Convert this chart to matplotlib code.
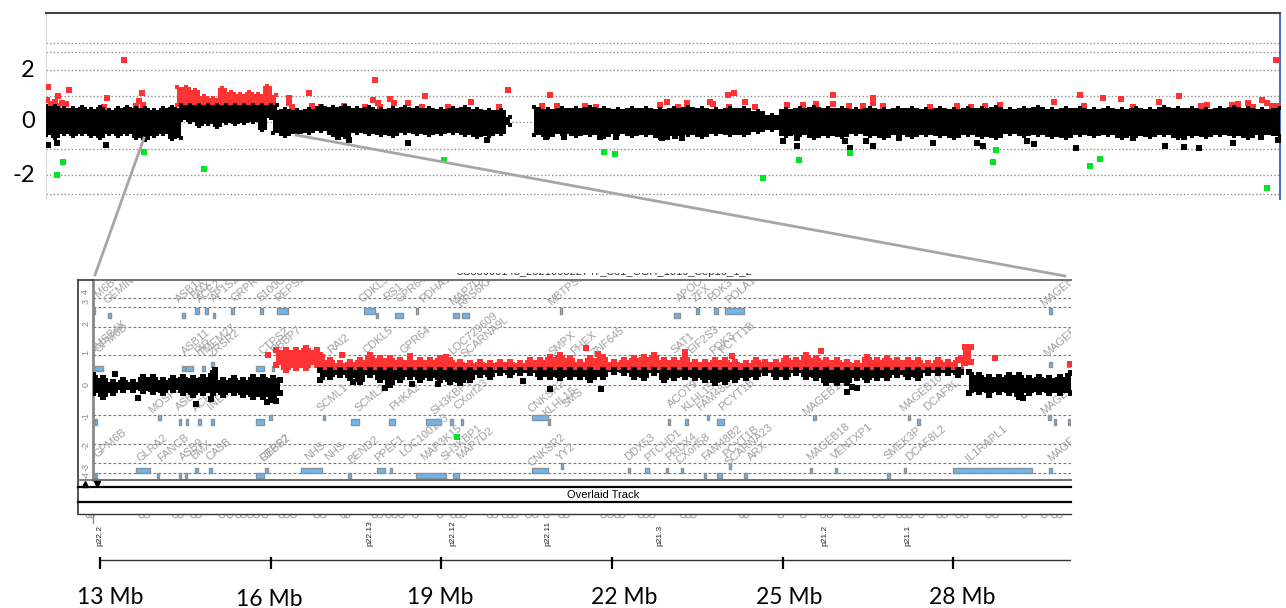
"""Array CGH view: whole chromosome X trace on top, 13-30 Mb zoom with gene track below."""
import matplotlib
matplotlib.use("Agg")
import matplotlib.pyplot as plt
from matplotlib.lines import Line2D
from matplotlib.patches import Rectangle

W, H = 1286, 608
RED, GREEN, BLUE = "#ff3333", "#00e626", "#6db6ee"

# ---- top panel: log ratio against probe position along the chromosome
top_grid = [2.98, 2.64, 1.98, 0.98, 0.0, -1.02, -2.0, -2.72]
top_tick_vals = [2.02, 0.08, -1.95]
top_tick_labels = ["2", "0", "-2"]

top_a_x = [46, 55, 64, 73, 82, 91, 100, 109, 118, 127, 136, 145, 154, 163, 172, 181]
top_a_hi = [.60, .60, .53, .53, .57, .49, .57, .45, .53, .57, .53, .53, .45, .53, .57, .53]
top_a_lo = [-.49, -.60, -.45, -.53, -.45, -.53, -.60, -.45, -.53, -.45, -.60, -.68, -.53, -.45, -.64, -.60]

top_b_x = [181, 190, 199, 208, 217, 226, 235, 244, 253, 262, 271, 277]
top_b_lo = [.08, 0, -.15, -.08, -.19, -.04, -.08, -.04, 0, -.30, .15, .10]

top_gain_x = [177, 186, 195, 204, 213, 222, 231, 240, 249, 258, 267, 276]
top_gain_hi = [1.32, 1.32, 1.21, .98, .91, 1.28, 1.13, 1.06, 1.13, 1.06, 1.36, 1.02]

top_c_x = [273, 285, 297, 309, 321, 333, 345, 357, 369, 381, 393, 405, 417, 429, 441, 453, 465, 477, 489, 501, 510]
top_c_hi = [.45, .49, .45, .49, .60, .57, .60, .53, .57, .49, .53, .57, .53, .53, .49, .53, .57, .49, .45, .45, .19]
top_c_lo = [-.42, -.53, -.45, -.42, -.34, -.49, -.57, -.42, -.45, -.49, -.53, -.42, -.45, -.49, -.45, -.42, -.49, -.57, -.53, -.45, -.11]

top_d_x = [534, 548, 562, 576, 590, 604, 618, 632, 646, 660, 674, 688, 702, 716, 730, 744, 758, 772,
           786, 800, 814, 828, 842, 856, 870, 884, 898, 912, 926, 940, 954, 968, 982, 996, 1010, 1024,
           1038, 1052, 1066, 1080, 1094, 1108, 1122, 1136, 1150, 1164, 1178, 1192, 1206, 1220, 1234, 1248, 1262, 1280]
top_d_hi = [.57, .49, .53, .53, .57, .53, .49, .53, .53, .50, .53, .57, .53, .49, .53, .53, .41, .26,
            .49, .53, .57, .53, .53, .49, .53, .49, .53, .53, .50, .53, .49, .53, .53, .57, .49, .53,
            .57, .49, .53, .53, .49, .53, .49, .53, .49, .57, .53, .53, .49, .53, .57, .53, .49, .53]
top_d_lo = [-.49, -.57, -.45, -.53, -.49, -.57, -.45, -.53, -.49, -.60, -.53, -.49, -.57, -.45, -.50, -.49, -.38, -.30,
            -.53, -.49, -.60, -.53, -.57, -.45, -.53, -.60, -.49, -.57, -.49, -.53, -.60, -.49, -.57, -.60, -.45, -.53,
            -.49, -.57, -.60, -.49, -.53, -.49, -.60, -.53, -.57, -.49, -.60, -.53, -.57, -.49, -.53, -.60, -.49, -.53]

top_red_x = [48, 107, 69, 124, 142, 139, 143, 136, 104, 375, 309, 289, 289, 292, 312, 321, 344, 365, 373, 378, 380,
             390, 394, 408, 425, 422, 448, 471, 508, 499, 550, 542, 557, 585, 596, 47, 51, 55, 58, 62, 66, 58,
             660, 667, 678, 687, 687, 710, 713, 728, 734, 729, 745, 755, 787, 803, 816, 833, 833, 849, 863, 873,
             873, 883, 930, 957, 971, 985, 1000, 1054, 1080, 1084, 1103, 1121, 1133, 1159, 1179, 1201, 1207,
             1232, 1238, 1248, 1253, 1262, 1267, 1272, 1278, 1276]
top_red_y = [1.32, .91, 1.21, 2.34, 1.09, .79, .64, .60, .57, 1.58, 1.09, .91, .72, .57, .60, .57, .60, .57, .83, .72, .57,
             .87, .72, .72, .98, .57, .57, .75, 1.21, .57, 1.02, .60, .60, .60, .57, .83, .68, .75, .98, .72, .68, .62,
             .64, .75, .57, .72, .57, .75, .68, 1.02, 1.09, .57, .75, .57, .64, .64, .68, 1.02, .68, .60, .60, .91,
             .72, .60, .57, .60, .57, .60, .64, .75, 1.02, .60, .91, .87, .57, .75, .98, .60, .64,
             .64, .68, .72, .57, .83, .72, .60, .60, 2.34]
top_blk_x = [48, 57, 106, 338, 349, 408, 487, 546, 564, 600, 616, 662, 667, 675, 682, 783, 797, 797, 845, 850, 866, 873,
             899, 933, 977, 983, 1027, 1034, 1076, 1133, 1165, 1184, 1184, 1199, 1233, 1261, 1278]
top_blk_y = [-.87, -.79, -.87, -.57, -.68, -.79, -.68, -.57, -.57, -.57, -.57, -.60, -.57, -.53, -.60, -.72, -.60, -.91,
             -.72, -.98, -.72, -.91, -.60, -.79, -.79, -.91, -.72, -.83, -.98, -.60, -.91, -.57, -.94, -.98, -.79, -.57, -.68]
top_grn_x = [63, 57, 144, 204, 444, 604, 615, 763, 799, 850, 993, 996, 1090, 1100, 1267]
top_grn_y = [-1.51, -2.0, -1.13, -1.77, -1.43, -1.13, -1.21, -2.11, -1.43, -1.17, -1.51, -1.06, -1.66, -1.40, -2.49]

# ---- zoom panel: log ratio against position in Mb
ins_grid = [2.89, 2.59, 1.92, 1.0, -0.01, -1.01, -1.96, -2.61, -2.93]
ins_tick_vals = [3.11, 2.78, 2.06, 1.09, .03, -1.02, -2.0, -2.72, -3.0]
ins_tick_labels = ["4", "3", "2", "1", "0", "-1", "-2", "-3", "-4"]

blk_l_x = [12.88, 13.06, 13.23, 13.41, 13.58, 13.76, 13.94, 14.11, 14.29, 14.47, 14.64, 14.82, 14.99, 15.17, 15.35, 15.52, 15.70, 15.87, 16.05, 16.17]
blk_l_hi = [.33, .22, .11, .17, .11, .28, .28, .17, .22, .28, .22, .28, .39, .17, .22, .17, .28, .28, .22, .17]
blk_l_lo = [-.28, -.39, -.28, -.17, -.17, -.20, -.22, -.28, -.17, -.28, -.33, -.28, -.28, -.33, -.28, -.33, -.39, -.39, -.50, -.28]

mid_x = [16.87, 17.04, 17.22, 17.39, 17.57, 17.75, 17.92, 18.10, 18.27, 18.45, 18.63, 18.80, 18.98, 19.15, 19.33, 19.51, 19.68, 19.86,
         20.03, 20.21, 20.39, 20.56, 20.74, 20.91, 21.09, 21.26, 21.44, 21.62, 21.85, 22.03, 22.21, 22.39, 22.57, 22.74, 22.92, 23.10,
         23.28, 23.46, 23.64, 23.81, 23.99, 24.17, 24.35, 24.53, 24.70, 24.88, 25.06, 25.24, 25.42, 25.59, 25.77, 25.95, 26.13, 26.31,
         26.49, 26.66, 26.84, 27.02, 27.20, 27.38, 27.55, 27.73, 27.91, 28.09]
blk_m_lo = [.17, .28, .33, .22, .11, .33, .17, 0, .17, .28, .17, .22, .17, .11, .06, .17, .33, .28,
            .39, .33, .39, .39, .28, .28, .22, .28, .28, .17, .28, .44, .39, .28, .22, .39, .17, .22,
            .28, .22, .17, .06, .11, .17, .22, .28, .39, .28, .28, .39, .28, .22, .06, .06, .06, .22,
            .17, .22, .22, .33, .28, .22, .39, .39, .39, .33]
red_m_hi = [1.0, .83, .72, .78, .83, 1.0, .89, .89, .83, .83, .83, .83, .89, .83, .78, .72, .78, .72,
            .78, .78, .72, .83, .83, .94, 1.0, .89, .78, .89, .94, .78, .83, .89, .94, 1.0, .83, .83,
            .94, .78, .78, .83, .83, .78, .72, .83, .78, .78, .89, .83, 1.0, .89, .83, .83, .78, .72,
            .94, .83, .89, .83, .83, .83, .72, .83, .78, .83]

red_l_x = [16.10, 16.28, 16.45, 16.63, 16.81, 16.90]
red_l_hi = [1.17, 1.17, 1.17, 1.22, 1.17, .94]
red_l_lo = [.67, .50, .56, .56, .67, .50]
red_r_x = [28.14, 28.21, 28.32]
red_r_hi = [.89, 1.28, 1.28]
red_r_lo = [.50, .72, .78]

blk_r_x = [28.27, 28.45, 28.62, 28.80, 28.98, 29.16, 29.34, 29.51, 29.69, 29.87, 30.07]
blk_r_hi = [.44, .33, .28, .28, .33, .33, .22, .28, .22, .28, .39]
blk_r_lo = [-.28, -.22, -.28, -.22, -.28, -.39, -.28, -.22, -.28, -.28, -.28]

ins_blk_x = [13.27, 13.67, 14.69, 14.96, 15.03, 15.93, 16.10, 17.45, 18.02, 18.48, 18.94, 19.38, 20.44, 20.92, 21.81, 26.14, 26.30, 26.22, 28.14, 28.63, 29.22]
ins_blk_y = [.36, -.44, -.64, -.48, .50, -.56, -.52, .11, -.09, .02, .02, .17, .13, -.13, -.13, -.22, -.09, -.06, .42, -.33, -.44]
ins_red_x = [15.95, 17.26, 18.46, 19.09, 21.54, 21.75, 23.28, 24.11, 25.68, 28.74, 30.05]
ins_red_y = [1.0, 1.0, .98, .94, 1.24, 1.02, 1.11, .98, 1.14, .91, .69]
ins_grn_x = [19.27]
ins_grn_y = [-1.72]

# gene boxes per track row: (start Mb, width Mb)
row_y = [2.47, 2.31, .69, .54, -1.09, -1.23, -2.70, -2.86, -3.01]
row_genes = [
    [(12.89, .03), (14.68, .06), (14.85, .05), (15.30, .05), (15.82, .05), (16.12, .19), (17.64, .19), (18.55, .04), (21.08, .04),
     (23.47, .06), (23.80, .06), (23.99, .33), (29.69, .04)],
    [(13.15, .04), (14.45, .04), (14.99, .04), (17.85, .04), (18.18, .14), (19.21, .11), (19.36, .13), (23.10, .10)],
    [(14.96, .04), (29.69, .04), (30.00, .07)],
    [(12.91, .15), (14.45, .04), (14.52, .11), (14.80, .04), (15.75, .13), (16.02, .04)],
    [(14.03, .04), (15.98, .05), (16.92, .04), (20.60, .27), (23.67, .04), (25.54, .04), (27.20, .04), (29.67, .04)],
    [(12.92, .03), (14.39, .04), (14.51, .04), (14.73, .05), (14.96, .04), (15.75, .13), (17.42, .13), (18.08, .10), (18.74, .26),
     (19.15, .05), (19.35, .04), (20.87, .04), (22.99, .04), (23.29, .04), (23.85, .12), (27.37, .04), (29.77, .04), (30.02, .04)],
    [(21.10, .04), (24.05, .04)],
    [(13.64, .24), (14.68, .05), (14.92, .05), (15.90, .05), (16.54, .37), (17.87, .15), (18.10, .04), (20.60, .27), (22.28, .04),
     (22.58, .08), (22.95, .04), (23.21, .04), (25.48, .04), (25.92, .04), (27.13, .04), (27.99, 1.39), (29.69, .05)],
    [(12.91, .04), (14.0, .04), (14.39, .04), (14.49, .04), (15.75, .13), (17.37, .04), (18.55, .53), (19.21, .11), (23.62, .04),
     (23.85, .09), (24.33, .04), (26.84, .04)],
]

gene_names = ["GEMIN8", "GPM6B", "ASB11", "BMX", "ACE2", "AP1S2", "GRPR", "S100G", "REPS2", "CDKL5", "RS1", "GPR64", "PDHA1",
              "MAP7D2", "RPS6KA3", "MBTPS2", "APOO", "ZFX", "PDK3", "POLA1", "MAGEB1",
              "GPM6B", "TMSB4X", "ASB11", "PIR", "TMEM27", "ZRSR2", "CTPS2", "RBBP7", "RAI2", "CDKL5", "GPR64", "LOC729609",
              "SCARNA9L", "SMPX", "PHEX", "ZNF645", "SAT1", "EIF2S3", "PDK3", "PCYT1B", "MAGEB1",
              "MOSPD2", "ASB9", "ACE2", "INE2", "SCML1", "SCML2", "PHKA2", "SH3KBP1", "CXorf23", "CNKSR2", "KLHL15", "SMS",
              "ACOT9", "KLHL15", "FAM48B1", "PCYT1B", "MAGEB18", "MAGEB10", "DCAF8L", "MAGEB1",
              "GPM6B", "GLRA2", "FANCB", "ASB9", "BMX", "CA5B", "CTPS2", "RBBP7", "NHS", "NHS", "BEND2", "PPEF1", "LOC100133",
              "MAP3K15", "SH3KBP1", "MAP7D2", "CNKSR2", "YY2", "DDX53", "PTCHD1", "PRDX4", "CXorf58", "FAM48B2", "PCYT1B",
              "SCARNA23", "ARX", "MAGEB18", "VENTXP1", "SMEK3P", "DCAF8L2", "IL1RAPL1", "MAGEB1"]
gene_x = [13.38, 13.0, 14.59, 14.79, 14.93, 15.2, 15.55, 16.02, 16.34, 17.83, 18.17, 18.48, 18.89,
          19.47, 19.65, 21.2, 23.38, 23.58, 23.91, 24.26, 29.87,
          13.2, 13.15, 14.69, 14.82, 15.08, 15.2, 16.06, 16.28, 17.2, 17.89, 18.54, 19.56,
          19.77, 21.14, 21.51, 21.93, 23.25, 23.61, 23.94, 24.2, 29.93,
          14.2, 14.55, 14.85, 15.08, 17.1, 17.77, 18.36, 19.18, 19.53, 20.85, 21.08, 21.32,
          23.25, 23.52, 23.84, 24.2, 25.74, 27.44, 27.79, 29.87,
          13.18, 13.93, 14.29, 14.61, 14.79, 15.08, 16.08, 16.08, 16.78, 17.13, 17.63, 18.1, 18.71,
          19.0, 19.36, 19.59, 20.85, 21.2, 22.49, 22.9, 23.22, 23.43, 23.93, 24.26,
          24.41, 24.56, 25.8, 26.22, 27.11, 27.52, 28.59, 29.99]
gene_y = [3.22, 3.06, 3.17, 3.17, 3.13, 3.2, 3.2, 3.2, 3.22, 3.2, 3.11, 3.2, 3.2,
          3.17, 3.17, 3.17, 3.17, 3.06, 3.17, 3.17, 3.17,
          1.56, 1.61, 1.44, 1.28, 1.5, 1.39, 1.47, 1.5, 1.36, 1.5, 1.5, 1.72,
          1.61, 1.39, 1.39, 1.44, 1.39, 1.5, 1.39, 1.56, 1.5,
          -.39, -.5, -.5, -.5, -.44, -.44, -.39, -.39, -.33, -.39, -.56, -.44,
          -.28, -.39, -.28, -.33, -.39, -.28, -.33, -.44,
          -1.94, -2.11, -2.09, -2.17, -2.17, -2.14, -2.11, -2.11, -2.22, -2.22, -2.17, -2.11, -1.67,
          -1.94, -1.94, -1.94, -2.17, -2.22, -2.06, -2.0, -2.06, -2.11, -1.94, -1.89,
          -2.0, -2.22, -1.89, -1.89, -1.94, -1.94, -1.94, -2.0]

ring_x = [12.8, 12.85, 13.73, 13.82, 14.32, 14.41, 14.64, 14.73, 15.14, 15.28, 15.43, 15.52, 15.64, 15.75, 15.90, 16.19, 16.28, 16.40,
          16.81, 16.92, 17.28, 17.34, 17.83, 17.92, 18.07, 18.18, 18.30, 18.54, 18.98, 19.21, 19.30, 19.39, 19.85, 19.94, 20.12, 20.21,
          20.29, 20.53, 20.65, 20.85, 21.11, 21.20, 21.85, 21.97, 22.09, 22.18, 22.51, 22.60, 22.71, 23.25, 23.34, 23.43, 24.29, 24.35,
          24.97, 25.36, 25.71, 25.83, 26.13, 26.22, 26.31, 26.63, 26.75, 27.05, 27.14, 27.23, 27.44, 27.76, 27.85, 28.09, 28.21, 28.62,
          28.74, 29.25, 29.60, 29.78, 29.87]
band_names = ["p22.2", "p22.13", "p22.12", "p22.11", "p21.3", "p21.2", "p21.1"]
band_x = [13.0, 17.75, 19.2, 20.87, 22.84, 25.74, 27.2]

scale_mb = [13, 16, 19, 22, 25, 28]
scale_labels = ["13 Mb", "16 Mb", "19 Mb", "22 Mb", "25 Mb", "28 Mb"]
scale_label_x = [13.18, 15.97, 18.98, 22.21, 25.11, 28.15]
scale_label_y = [598, 599, 598, 598, 598, 598]


def axes_px(left, top, right, bottom):
    # axes rectangle given in picture pixels
    return fig.add_axes([left / W, 1 - bottom / H, (right - left) / W, (bottom - top) / H])


def fig_line(xs, ys, **kw):
    fig.add_artist(Line2D([x / W for x in xs], [1 - y / H for y in ys], **kw))


def band(ax, x, lo, hi, color, z=3, size=12):
    ax.fill_between(x, lo, hi, step="mid", color=color, lw=0, zorder=z)
    ax.scatter(x, hi, marker="s", s=size, color=color, lw=0, zorder=z)
    ax.scatter(x, lo, marker="s", s=size, color=color, lw=0, zorder=z)


fig = plt.figure(figsize=(W / 100, H / 100), dpi=100)

# ---- top panel
ax = axes_px(46, 13, 1280, 199)
ax.set_xlim(46, 1280)
ax.set_ylim(-2.9, 4.11)
for v in top_grid:
    ax.axhline(v, color="#8c8c8c", lw=1, ls=(0, (1, 1.6)), zorder=1)
band(ax, top_gain_x, [.64] * len(top_gain_x), top_gain_hi, RED)
band(ax, top_a_x, top_a_lo, top_a_hi, "black", 4)
band(ax, top_b_x, top_b_lo, [.64] * len(top_b_x), "black", 4)
band(ax, top_c_x, top_c_lo, top_c_hi, "black", 4)
band(ax, top_d_x, top_d_lo, top_d_hi, "black", 4)
ax.scatter(top_red_x, top_red_y, marker="s", s=15, color=RED, lw=0, zorder=3)
ax.scatter(top_blk_x, top_blk_y, marker="s", s=15, color="black", lw=0, zorder=3)
ax.scatter(top_grn_x, top_grn_y, marker="s", s=15, color=GREEN, lw=0, zorder=3)
ax.set_xticks([])
ax.set_yticks(top_tick_vals, top_tick_labels, fontfamily="Lato", fontsize=17)
ax.tick_params(axis="y", length=0, pad=8)
ax.spines["bottom"].set_visible(False)
ax.spines["top"].set_color("#444444")
ax.spines["top"].set_linewidth(1.5)
ax.spines["left"].set_color("#dddddd")
ax.spines["right"].set_color("#4472c4")
ax.spines["right"].set_linewidth(1.5)

# ---- zoom panel
ins = axes_px(93, 280, 1071, 480)
ins.set_xlim(12.88, 30.07)
ins.set_ylim(-3.17, 3.5)
for v in ins_grid:
    ins.axhline(v, color="#777777", lw=0.8, ls=(0, (2.5, 2)), zorder=1)
for y, genes in zip(row_y, row_genes):
    ins.broken_barh(genes, (y - 0.09, 0.18), facecolor=BLUE, edgecolor="#8a929a", lw=1, zorder=2)
for name, x, y in zip(gene_names, gene_x, gene_y):
    ins.text(x, y, name, rotation=40, ha="center", va="center", fontsize=8, color="#a0a0a0",
             family="Liberation Sans", clip_on=True, zorder=2)
band(ins, blk_l_x, blk_l_lo, blk_l_hi, "black", 4, 18)
band(ins, mid_x, [.5] * len(mid_x), red_m_hi, RED, 4, 18)
band(ins, red_l_x, red_l_lo, red_l_hi, RED, 4, 18)
band(ins, red_r_x, red_r_lo, red_r_hi, RED, 4, 18)
band(ins, mid_x, blk_m_lo, [.5] * len(mid_x), "black", 5, 18)
band(ins, blk_r_x, blk_r_lo, blk_r_hi, "black", 5, 18)
ins.scatter(ins_blk_x, ins_blk_y, marker="s", s=18, color="black", lw=0, zorder=5)
ins.scatter(ins_red_x, ins_red_y, marker="s", s=18, color=RED, lw=0, zorder=4)
ins.scatter(ins_grn_x, ins_grn_y, marker="s", s=18, color=GREEN, lw=0, zorder=4)
ins.set_xticks([])
ins.set_yticks(ins_tick_vals, ins_tick_labels, rotation=90, va="center", fontsize=6.5, color="#8c8c8c",
               family="Liberation Sans")
ins.tick_params(axis="y", length=0, pad=2)
for side in ["top", "bottom"]:
    ins.spines[side].set_color("#707070")
    ins.spines[side].set_linewidth(1.4)
ins.spines["left"].set_color("#888888")
ins.spines["left"].set_linewidth(2)
ins.spines["right"].set_visible(False)

# ---- strip under the zoom panel: rings, cytobands, scale bar
strip = axes_px(78, 514, 1071, 608)
strip.set_xlim(12.61, 30.07)
strip.set_ylim(608, 514)
strip.axis("off")
strip.scatter(ring_x, [515] * len(ring_x), marker="o", s=16, facecolor="none", edgecolor="#a8a8a8", lw=0.8)
strip.plot([12.88, 12.88], [514, 523], color="#888888", lw=1)
for name, x in zip(band_names, band_x):
    strip.text(x, 546, name, rotation=90, ha="center", va="bottom", fontsize=6, family="Liberation Sans", color="#222222")
strip.plot([13, 30.07], [560, 560], color="#333333", lw=1)
strip.vlines(scale_mb, 557, 569, color="black", lw=1.6)
for name, x, y in zip(scale_labels, scale_label_x, scale_label_y):
    strip.text(x, y, name, ha="center", va="center", fontsize=16.5, family="Lato", clip_on=False)

# ---- frame of the viewer window
fig_line([78, 78], [280, 514], color="#333333", lw=1.2)
fig_line([78, 93], [280, 280], color="#333333", lw=1.2)
fig_line([78, 93], [480, 480], color="#707070", lw=1.2)
fig_line([78, 1071], [487, 487], color="black", lw=1.6)
fig_line([78, 1071], [502, 502], color="black", lw=1.6)
fig_line([78, 1071], [514, 514], color="#333333", lw=1)
fig_line([85], [484], marker="^", ms=5, color="black", ls="none")
fig_line([97], [484], marker="v", ms=5, color="black", ls="none")
fig.text(603 / W, 1 - 494.5 / H, "Overlaid Track", ha="center", va="center", fontsize=8, family="Liberation Sans")

# title of the viewer, cut off by the crop
fig.text(604 / W, 1 - 272 / H, "US83000143_252100822747_S01_CGH_1010_Sep10_1_2", ha="center", va="center",
         fontsize=8, family="Liberation Sans", color="#333333")
fig.add_artist(Rectangle((440 / W, 1 - 272.5 / H), 330 / W, 12 / H, transform=fig.transFigure, color="white", lw=0, zorder=10))

# zoom connectors
fig_line([144, 95], [138, 275], color="#a6a6a6", lw=2, zorder=11)
fig_line([296, 1065], [135, 276], color="#a6a6a6", lw=2, zorder=11)

plt.savefig("out.png", dpi=100)
